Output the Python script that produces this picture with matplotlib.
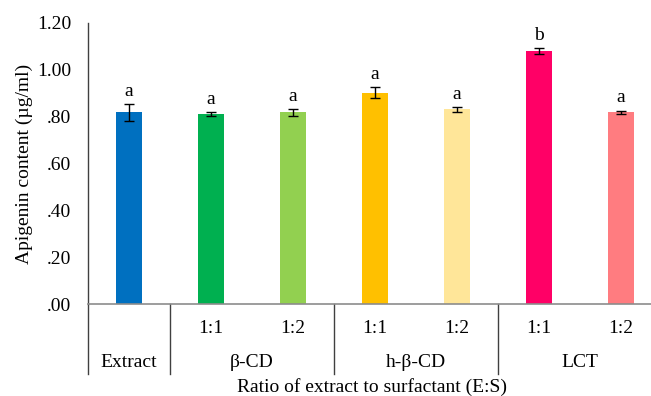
import matplotlib.pyplot as plt
from matplotlib.ticker import FuncFormatter
from matplotlib.transforms import blended_transform_factory

plt.rcParams['font.family'] = ['Liberation Serif', 'DejaVu Serif']

ratios = ["", "1:1", "1:2", "1:1", "1:2", "1:1", "1:2"]
groups = ["Extract", "β-CD", "h-β-CD", "LCT"]
group_centers = [0, 1.5, 3.5, 5.5]
group_edges = [-0.5, 0.5, 2.5, 4.5]
values = [0.819, 0.810, 0.818, 0.903, 0.831, 1.081, 0.819]
errors = [0.036, 0.009, 0.014, 0.024, 0.009, 0.013, 0.007]
letters = ["a", "a", "a", "a", "a", "b", "a"]
colors = ["#0070C0", "#00B050", "#92D050", "#FFC000", "#FFE699", "#FF0066", "#FF7C80"]

fs = 14

fig = plt.figure(figsize=(6.51, 3.96), dpi=100)
ax = fig.add_axes([0.135, 0.232, 0.865, 0.710])

x = list(range(len(values)))
ax.bar(x, values, width=0.32, color=colors, zorder=2)
ax.errorbar(x, values, yerr=errors, fmt="none", ecolor="black",
            elinewidth=1, capsize=3.5, capthick=1, zorder=3)

for xi, v, e, lab in zip(x, values, errors, letters):
    ax.annotate(lab, (xi, v + e), xytext=(0, 3), textcoords="offset points",
                ha="center", va="bottom", fontsize=fs)

ax.set_ylim(0, 1.2)
ax.set_yticks([0, 0.2, 0.4, 0.6, 0.8, 1.0, 1.2])
ax.yaxis.set_major_formatter(FuncFormatter(
    lambda v, p: f"{v:.2f}"[1:] if v < 1 else f"{v:.2f}"))
ax.tick_params(axis="y", length=0, labelsize=fs, pad=12)
ax.set_xlim(-0.5, 6.366)
ax.set_xticks([])

for s in ["top", "right"]:
    ax.spines[s].set_visible(False)
ax.spines["bottom"].set_color("#8c8c8c")
ax.spines["bottom"].set_linewidth(1.2)
ax.spines["left"].set_color("#404040")
ax.spines["left"].set_linewidth(1)

# category axis labels below the plot
tr = blended_transform_factory(ax.transData, ax.transAxes)
for xi, r in zip(x, ratios):
    if r:
        ax.text(xi, -0.085, r, transform=tr, ha="center", va="center", fontsize=fs)
for gx, g in zip(group_centers, groups):
    ax.text(gx, -0.206, g, transform=tr, ha="center", va="center", fontsize=fs)
for ex in group_edges:
    ax.plot([ex, ex], [0, -0.249], transform=tr, color="#404040",
            lw=1, clip_on=False)

ax.set_ylabel("Apigenin content (µg/ml)", fontsize=fs)
ax.yaxis.set_label_coords(-0.097, 0.5)
fig.text(0.572, 0.022, "Ratio of extract to surfactant (E:S)", ha="center",
         va="center", fontsize=fs)

fig.savefig("out.png", dpi=100)
